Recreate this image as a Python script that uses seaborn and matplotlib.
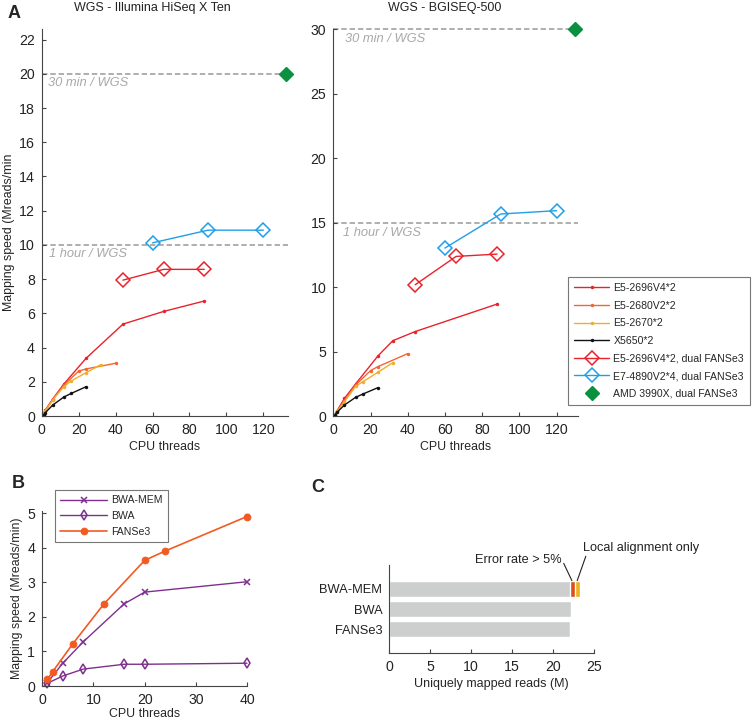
import matplotlib
matplotlib.use('Agg')
import matplotlib.pyplot as plt
import seaborn as sns

# =============================================================================
# Data
# =============================================================================

# Panel A, left: WGS - Illumina HiSeq X Ten
hiseq_v4_x = [1, 2, 6, 12, 24, 44, 66, 88]
hiseq_v4_y = [0.12, 0.35, 1.0, 1.87, 3.37, 5.37, 6.11, 6.72]
hiseq_v2_x = [1, 2, 6, 12, 20, 24, 40]
hiseq_v2_y = [0.1, 0.3, 0.95, 1.8, 2.62, 2.75, 3.08]
hiseq_2670_x = [1, 2, 6, 12, 16, 24, 32]
hiseq_2670_y = [0.1, 0.3, 0.95, 1.72, 2.05, 2.53, 3.0]
hiseq_x5650_x = [1, 2, 6, 12, 16, 24]
hiseq_x5650_y = [0.06, 0.2, 0.64, 1.11, 1.32, 1.71]
hiseq_dual_v4_x = [44, 66, 88]
hiseq_dual_v4_y = [7.94, 8.57, 8.57]
hiseq_dual_e7_x = [60, 90, 120]
hiseq_dual_e7_y = [10.12, 10.86, 10.86]
hiseq_amd_x = [132]
hiseq_amd_y = [20.0]

# Panel A, right: WGS - BGISEQ-500
bgi_v4_x = [1, 2, 6, 12, 24, 32, 44, 88]
bgi_v4_y = [0.15, 0.4, 1.37, 2.49, 4.66, 5.84, 6.55, 8.68]
bgi_v2_x = [1, 2, 6, 12, 20, 24, 40]
bgi_v2_y = [0.12, 0.35, 1.2, 2.4, 3.52, 3.83, 4.84]
bgi_2670_x = [1, 2, 6, 12, 16, 24, 32]
bgi_2670_y = [0.12, 0.35, 1.1, 2.3, 2.67, 3.39, 4.14]
bgi_x5650_x = [1, 2, 6, 12, 16, 24]
bgi_x5650_y = [0.1, 0.29, 0.85, 1.45, 1.71, 2.2]
bgi_dual_v4_x = [44, 66, 88]
bgi_dual_v4_y = [10.18, 12.38, 12.56]
bgi_dual_e7_x = [60, 90, 120]
bgi_dual_e7_y = [13.03, 15.67, 15.93]
bgi_amd_x = [130]
bgi_amd_y = [30.0]

cpu_labels = ['E5-2696V4*2', 'E5-2680V2*2', 'E5-2670*2', 'X5650*2',
              'E5-2696V4*2, dual FANSe3', 'E7-4890V2*4, dual FANSe3',
              'AMD 3990X, dual FANSe3']

# Panel B
bwamem_x = [1, 4, 8, 16, 20, 40]
bwamem_y = [0.1, 0.66, 1.28, 2.38, 2.72, 3.02]
bwa_x = [1, 4, 8, 16, 20, 40]
bwa_y = [0.08, 0.29, 0.49, 0.63, 0.63, 0.66]
fanse3_x = [1, 2, 6, 12, 20, 24, 40]
fanse3_y = [0.19, 0.41, 1.23, 2.37, 3.64, 3.91, 4.91]
fanse3_err = [0, 0, 0, 0, 0, 0, 0.07]

# Panel C
aligners = ['BWA-MEM', 'BWA', 'FANSe3']
unique_reads = [22.07, 22.23, 22.03]
high_error = [0.56, 0.0, 0.0]
local_only = [0.62, 0.0, 0.0]

# =============================================================================
# Style
# =============================================================================

sns.set_theme(style="ticks")
plt.rcParams['font.family'] = ['Liberation Sans', 'DejaVu Sans']
plt.rcParams['font.size'] = 9

c_v4 = '#E8232B'
c_v2 = '#F26631'
c_2670 = '#F0AE2E'
c_x5650 = '#111111'
c_e7 = '#1F9FE8'
c_amd = '#0A9140'
c_dash = '#A8A8A8'
c_axis = '#444444'
c_purple = '#7E2F8E'
c_fanse = '#F25A22'
c_text = '#222222'

W, H = 753, 719
fig = plt.figure(figsize=(W / 100, H / 100), dpi=100)


def rect(left, top, right, bottom):
    return [left / W, 1 - bottom / H, (right - left) / W, (bottom - top) / H]


def style_ax(ax):
    sns.despine(ax=ax)
    for s in ['left', 'bottom']:
        ax.spines[s].set_color(c_axis)
        ax.spines[s].set_linewidth(0.8)
    ax.tick_params(direction='in', length=3, width=0.8, color=c_axis,
                   labelcolor=c_text, labelsize=10.2, pad=5)


def draw_cpu(ax, series, amd_x, amd_y):
    small = dict(lw=1, marker='o', markersize=2.5, markeredgewidth=0)
    cols = [c_v4, c_v2, c_2670, c_x5650]
    for (x, y), col, lab in zip(series[:4], cols, cpu_labels[:4]):
        sns.lineplot(x=x, y=y, color=col, ax=ax, label=lab,
                     markerfacecolor=col, **small)
    for (x, y), col, lab in zip(series[4:], [c_v4, c_e7], cpu_labels[4:6]):
        sns.lineplot(x=x, y=y, color=col, ax=ax, label=lab, lw=1,
                     marker='D', markersize=7, markerfacecolor='none',
                     markeredgecolor=col, markeredgewidth=1.1)
    ax.plot(amd_x, amd_y, ls='none', marker='D', markersize=7, color=c_amd,
            markeredgecolor=c_amd, label=cpu_labels[6], clip_on=False, zorder=5)


# =============================================================================
# Panel A, left
# =============================================================================

ax1 = fig.add_axes(rect(41.7, 29.3, 288.3, 416))
draw_cpu(ax1, [(hiseq_v4_x, hiseq_v4_y), (hiseq_v2_x, hiseq_v2_y),
               (hiseq_2670_x, hiseq_2670_y), (hiseq_x5650_x, hiseq_x5650_y),
               (hiseq_dual_v4_x, hiseq_dual_v4_y), (hiseq_dual_e7_x, hiseq_dual_e7_y)],
         hiseq_amd_x, hiseq_amd_y)
for yv in [10, 20]:
    ax1.axhline(yv, color=c_dash, lw=1.3, ls=(0, (3, 1.6)), zorder=0)
ax1.text(3.6, 19.8, '30 min / WGS', style='italic', color=c_dash,
         fontsize=9.3, va='top')
ax1.text(4.1, 9.8, '1 hour / WGS', style='italic', color=c_dash,
         fontsize=9.3, va='top')
ax1.set_xlim(0, 133.5)
ax1.set_ylim(0, 22.6)
ax1.set_xticks(range(0, 121, 20))
ax1.set_yticks(range(0, 23, 2))
ax1.set_xlabel('CPU threads', fontsize=8.9, labelpad=3)
ax1.set_ylabel('')
style_ax(ax1)
ax1.get_legend().remove()

# =============================================================================
# Panel A, right
# =============================================================================

ax2 = fig.add_axes(rect(333.3, 29.3, 578.3, 416))
draw_cpu(ax2, [(bgi_v4_x, bgi_v4_y), (bgi_v2_x, bgi_v2_y),
               (bgi_2670_x, bgi_2670_y), (bgi_x5650_x, bgi_x5650_y),
               (bgi_dual_v4_x, bgi_dual_v4_y), (bgi_dual_e7_x, bgi_dual_e7_y)],
         bgi_amd_x, bgi_amd_y)
for yv in [15, 30]:
    ax2.axhline(yv, color=c_dash, lw=1.3, ls=(0, (3, 1.6)), zorder=0, clip_on=False)
ax2.text(6.3, 29.7, '30 min / WGS', style='italic', color=c_dash,
         fontsize=9.3, va='top')
ax2.text(5.2, 14.7, '1 hour / WGS', style='italic', color=c_dash,
         fontsize=9.3, va='top')
ax2.set_xlim(0, 131.7)
ax2.set_ylim(0, 30)
ax2.set_xticks(range(0, 121, 20))
ax2.set_yticks(range(0, 31, 5))
ax2.set_xlabel('CPU threads', fontsize=8.9, labelpad=3)
ax2.set_ylabel('')
style_ax(ax2)
handles, labels = ax2.get_legend_handles_labels()
ax2.get_legend().remove()
leg = fig.legend(handles, labels, loc='upper left',
                 bbox_to_anchor=(568 / W, 1 - 276.7 / H), fontsize=7.6,
                 frameon=True, fancybox=False, edgecolor='#555555',
                 handlelength=3.3, handletextpad=0.4, labelspacing=0.72,
                 borderpad=0.6, borderaxespad=0)
leg.get_frame().set_linewidth(0.8)

fig.text(152 / W, 1 - 8 / H, 'WGS - Illumina HiSeq X Ten', ha='center',
         va='center', fontsize=9, color=c_text)
fig.text(445 / W, 1 - 8 / H, 'WGS - BGISEQ-500', ha='center', va='center',
         fontsize=9, color=c_text)
fig.text(9 / W, 1 - 232 / H, 'Mapping speed (Mreads/min', rotation=90,
         ha='center', va='center', fontsize=8.9, color=c_text)
fig.text(14 / W, 1 - 14 / H, 'A', fontsize=13, fontweight='bold',
         ha='center', va='center')

# =============================================================================
# Panel B
# =============================================================================

ax3 = fig.add_axes(rect(42.3, 511, 247, 686))
sns.lineplot(x=bwamem_x, y=bwamem_y, color=c_purple, lw=1, marker='x',
             markersize=5, markeredgecolor=c_purple, markeredgewidth=1.1,
             label='BWA-MEM', ax=ax3)
sns.lineplot(x=bwa_x, y=bwa_y, color=c_purple, lw=1, marker='d',
             markersize=5.5, markerfacecolor='none', markeredgecolor=c_purple,
             markeredgewidth=1.1, label='BWA', ax=ax3)
sns.lineplot(x=fanse3_x, y=fanse3_y, color=c_fanse, lw=1.2, marker='o',
             markersize=4.8, markerfacecolor=c_fanse, markeredgecolor=c_fanse,
             label='FANSe3', ax=ax3, zorder=4)
ax3.errorbar(fanse3_x, fanse3_y, yerr=fanse3_err, fmt='none',
             ecolor=c_fanse, elinewidth=1, capsize=1.5, clip_on=False)
ax3.set_xlim(0, 40)
ax3.set_ylim(0, 5.07)
ax3.set_xticks(range(0, 41, 10))
ax3.set_yticks(range(0, 6))
ax3.set_xlabel('CPU threads', fontsize=8.9, labelpad=1)
ax3.set_ylabel('Mapping speed (Mreads/min)', fontsize=8.9, labelpad=3)
style_ax(ax3)
for ln in ax3.get_lines():
    ln.set_clip_on(False)
h3, l3 = ax3.get_legend_handles_labels()
ax3.get_legend().remove()
leg3 = fig.legend(h3, l3, loc='upper left', bbox_to_anchor=(55 / W, 1 - 490 / H),
                  fontsize=7.6, frameon=True, fancybox=False, edgecolor='#555555',
                  handlelength=4.4, handletextpad=0.4, labelspacing=0.55,
                  borderpad=0.5, borderaxespad=0)
leg3.get_frame().set_linewidth(0.8)
fig.text(18 / W, 1 - 483 / H, 'B', fontsize=13, fontweight='bold',
         ha='center', va='center')

# =============================================================================
# Panel C
# =============================================================================

ax4 = fig.add_axes(rect(389.3, 565, 594, 652.7))
stack_err = [u + e for u, e in zip(unique_reads, high_error)]
stack_all = [s + l for s, l in zip(stack_err, local_only)]
sns.barplot(x=stack_all, y=aligners, color='#EDB020', width=0.8,
            saturation=1, ax=ax4, orient='h')
sns.barplot(x=stack_err, y=aligners, color='#D9501A', width=0.8,
            saturation=1, ax=ax4, orient='h')
sns.barplot(x=unique_reads, y=aligners, color='#CDCFCE', width=0.8,
            saturation=1, ax=ax4, orient='h')
ax4.set_xlim(0, 25)
ax4.set_ylim(3.15, -1.17)
ax4.set_xticks(range(0, 26, 5))
ax4.set_xlabel('Uniquely mapped reads (M)', fontsize=9, labelpad=3)
ax4.set_ylabel('')
style_ax(ax4)
ax4.tick_params(axis='y', labelsize=9.3)
ax4.plot([22.3, 21.3], [-0.4, -1.25], color=c_text, lw=0.8, clip_on=False)
ax4.plot([22.95, 24.0], [-0.4, -1.6], color=c_text, lw=0.8, clip_on=False)
ax4.text(21.1, -1.42, 'Error rate > 5%', ha='right', va='center',
         fontsize=9.2, color=c_text)
ax4.text(23.65, -2.0, 'Local alignment only', ha='left', va='center',
         fontsize=9.2, color=c_text)
fig.text(318 / W, 1 - 488 / H, 'C', fontsize=13, fontweight='bold',
         ha='center', va='center')

fig.savefig('out.png', dpi=100)
